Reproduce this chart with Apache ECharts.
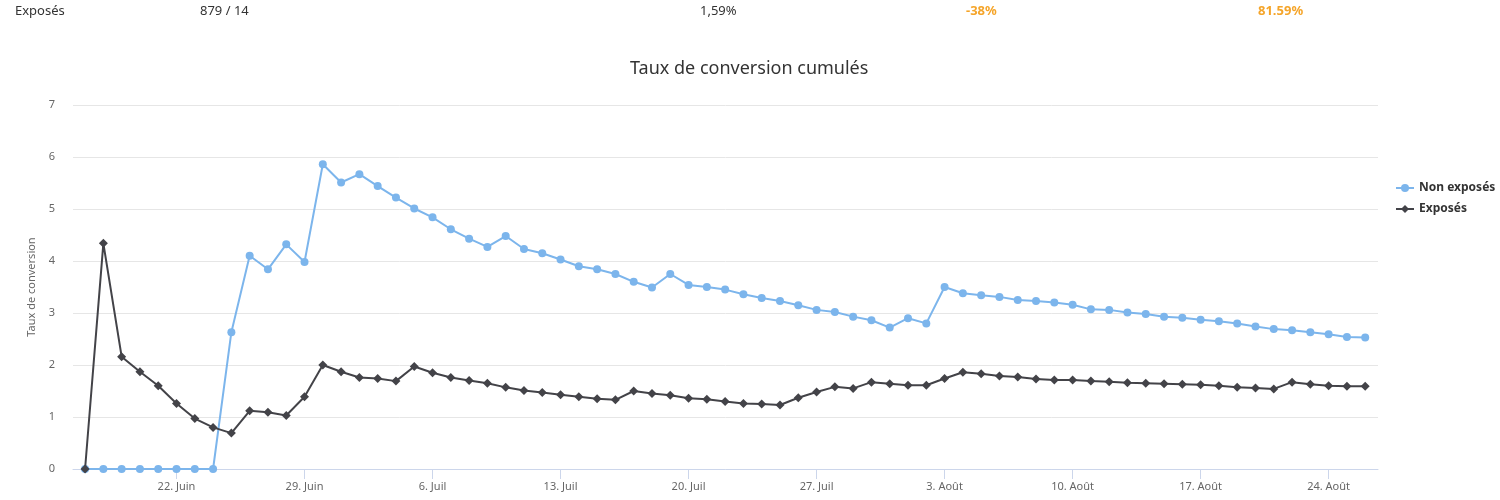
<!DOCTYPE html>
<html>
<head>
<meta charset="utf-8">
<script src="https://cdn.jsdelivr.net/npm/echarts@6/dist/echarts.min.js"></script>
<style>
  html, body { margin: 0; padding: 0; background: #fff; }
  #chart { width: 1500px; height: 500px; }
</style>
</head>
<body>
<div id="chart"></div>
<script>
const DAY = 86400000;
const startDay = Date.UTC(2015, 5, 17); // 17 juin, premier point

const nonExposes = [
  0, 0, 0, 0, 0, 0, 0, 0, 2.63, 4.10, 3.84, 4.32, 3.98, 5.86, 5.51, 5.67, 5.44, 5.22,
  5.01, 4.84, 4.61, 4.43, 4.27, 4.48, 4.23, 4.15, 4.03, 3.90, 3.84, 3.75, 3.60, 3.49,
  3.75, 3.54, 3.50, 3.45, 3.36, 3.29, 3.23, 3.15, 3.06, 3.02, 2.93, 2.86, 2.72, 2.90,
  2.80, 3.50, 3.38, 3.34, 3.31, 3.25, 3.23, 3.20, 3.16, 3.07, 3.06, 3.01, 2.98, 2.93,
  2.91, 2.87, 2.84, 2.80, 2.74, 2.69, 2.67, 2.63, 2.59, 2.54, 2.53
];
const exposes = [
  0, 4.34, 2.16, 1.87, 1.60, 1.26, 0.97, 0.80, 0.69, 1.12, 1.09, 1.03, 1.39, 2.00, 1.87,
  1.76, 1.74, 1.69, 1.97, 1.85, 1.76, 1.70, 1.65, 1.57, 1.51, 1.47, 1.43, 1.39, 1.35,
  1.33, 1.50, 1.45, 1.42, 1.36, 1.34, 1.30, 1.26, 1.25, 1.23, 1.37, 1.48, 1.58, 1.55,
  1.67, 1.64, 1.61, 1.61, 1.74, 1.86, 1.83, 1.79, 1.77, 1.73, 1.71, 1.71, 1.69, 1.68,
  1.66, 1.65, 1.64, 1.63, 1.62, 1.60, 1.57, 1.56, 1.54, 1.67, 1.63, 1.60, 1.59, 1.59
];

const tickDates = [
  Date.UTC(2015, 5, 22), Date.UTC(2015, 5, 29), Date.UTC(2015, 6, 6), Date.UTC(2015, 6, 13),
  Date.UTC(2015, 6, 20), Date.UTC(2015, 6, 27), Date.UTC(2015, 7, 3), Date.UTC(2015, 7, 10),
  Date.UTC(2015, 7, 17), Date.UTC(2015, 7, 24)
];
const tickLabels = [
  '22. Juin', '29. Juin', '6. Juil', '13. Juil', '20. Juil',
  '27. Juil', '3. Août', '10. Août', '17. Août', '24. Août'
];

// ligne de résumé au-dessus du graphique
const summaryRow = ['Exposés', '879 / 14', '1,59%', '-38%', '81.59%'];

const FONT = '"Noto Sans", sans-serif';

// x = nombre de jours depuis le premier point
function dayIndex(ts) {
  return Math.round((ts - startDay) / DAY);
}
const tickDays = tickDates.map(dayIndex);

function toPairs(values) {
  return values.map((v, i) => [i, v]);
}

const chart = echarts.init(document.getElementById('chart'));

chart.setOption({
  animation: false,
  textStyle: { fontFamily: FONT },
  title: {
    text: 'Taux de conversion cumulés',
    left: 625,
    top: 55,
    textStyle: { fontSize: 18, fontWeight: 'normal', color: '#333333', fontFamily: FONT }
  },
  graphic: [
    { type: 'text', left: 15, top: 5, style: { text: summaryRow[0], fill: '#333', font: '13px ' + FONT } },
    { type: 'text', left: 200, top: 5, style: { text: summaryRow[1], fill: '#333', font: '13px ' + FONT } },
    { type: 'text', left: 700, top: 5, style: { text: summaryRow[2], fill: '#333', font: '13px ' + FONT } },
    { type: 'text', left: 966, top: 5, style: { text: summaryRow[3], fill: '#f5a52a', font: 'bold 13px ' + FONT } },
    { type: 'text', left: 1258, top: 5, style: { text: summaryRow[4], fill: '#f5a52a', font: 'bold 13px ' + FONT } }
  ],
  legend: {
    orient: 'vertical',
    left: 1390,
    top: 177,
    itemWidth: 18,
    itemHeight: 10,
    itemGap: 9,
    textStyle: { fontSize: 12, fontWeight: 'bold', color: '#333333' },
    data: ['Non exposés', 'Exposés']
  },
  grid: {
    left: 73,
    right: 122,
    top: 105,
    bottom: 31
  },
  xAxis: {
    type: 'value',
    min: -0.66,
    max: 70.7,
    axisLine: { onZero: false, lineStyle: { color: '#ccd6eb', width: 1 } },
    axisTick: { show: true, length: 10, lineStyle: { color: '#ccd6eb' }, customValues: tickDays },
    splitLine: { show: false },
    axisLabel: {
      customValues: tickDays,
      color: '#666666',
      fontSize: 11,
      margin: 12,
      formatter: function (val) {
        const idx = tickDays.indexOf(Math.round(val));
        return idx >= 0 ? tickLabels[idx] : '';
      }
    }
  },
  yAxis: {
    type: 'value',
    min: 0,
    max: 7,
    interval: 1,
    name: 'Taux de conversion',
    nameLocation: 'middle',
    nameGap: 35,
    nameTextStyle: { color: '#666666', fontSize: 11 },
    axisLine: { show: false },
    axisTick: { show: false },
    axisLabel: { color: '#666666', fontSize: 11, margin: 18 },
    splitLine: { lineStyle: { color: '#e6e6e6' } }
  },
  series: [
    {
      name: 'Non exposés',
      type: 'line',
      data: toPairs(nonExposes),
      symbol: 'circle',
      symbolSize: 8,
      showAllSymbol: true,
      lineStyle: { width: 2, color: '#7cb5ec' },
      itemStyle: { color: '#7cb5ec' },
      z: 2
    },
    {
      name: 'Exposés',
      type: 'line',
      data: toPairs(exposes),
      symbol: 'diamond',
      symbolSize: 9,
      showAllSymbol: true,
      lineStyle: { width: 2, color: '#434348' },
      itemStyle: { color: '#434348' },
      z: 3
    }
  ]
});
</script>
</body>
</html>
